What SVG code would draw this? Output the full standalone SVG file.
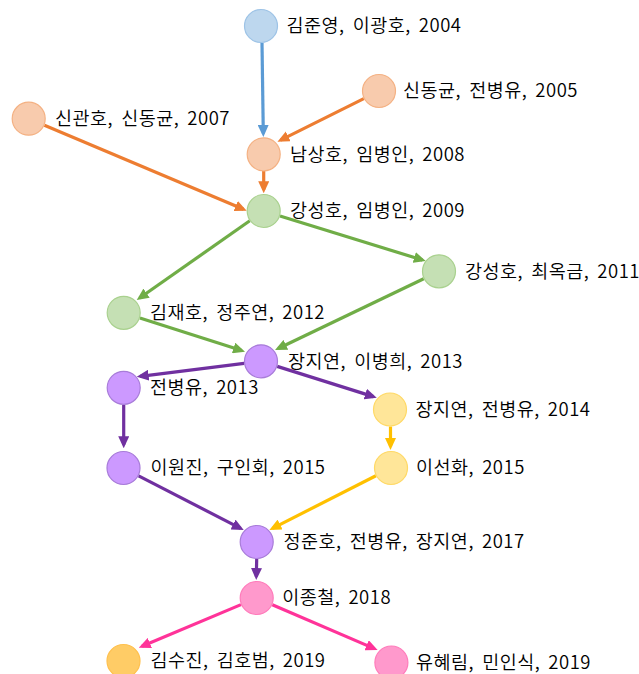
<svg xmlns="http://www.w3.org/2000/svg" width="639" height="674" viewBox="0 0 639 674">
<style>
  text { font-family: "Noto Sans CJK KR", "Noto Sans", sans-serif; font-size: 18.5px; font-weight: 350; letter-spacing: 0.5px; word-spacing: 3.5px; fill: #000; }
  .e { fill: none; stroke-width: 3.2; }
  .n { stroke-width: 1.2; }
  .blue { fill: #BDD7EE; stroke: #9DC3E6; }
  .orange { fill: #F8CBAD; stroke: #F4B183; }
  .green { fill: #C5E0B4; stroke: #A9D18E; }
  .purple { fill: #CC99FF; stroke: #A87CD9; }
  .yellow { fill: #FFE699; stroke: #FFD966; }
  .pink { fill: #FF99CC; stroke: #FF7CBB; }
  .gold { fill: #FFCC66; stroke: #FFC04D; }
</style>
<defs>
  <marker id="aBlue" markerUnits="userSpaceOnUse" markerWidth="12" markerHeight="11" refX="8.5" refY="5.5" orient="auto"><path d="M0,0 L12,5.5 L0,11 z" fill="#5B9BD5"/></marker>
  <marker id="aOrange" markerUnits="userSpaceOnUse" markerWidth="12" markerHeight="11" refX="8.5" refY="5.5" orient="auto"><path d="M0,0 L12,5.5 L0,11 z" fill="#ED7D31"/></marker>
  <marker id="aGreen" markerUnits="userSpaceOnUse" markerWidth="12" markerHeight="11" refX="8.5" refY="5.5" orient="auto"><path d="M0,0 L12,5.5 L0,11 z" fill="#70AD47"/></marker>
  <marker id="aPurple" markerUnits="userSpaceOnUse" markerWidth="12" markerHeight="11" refX="8.5" refY="5.5" orient="auto"><path d="M0,0 L12,5.5 L0,11 z" fill="#7030A0"/></marker>
  <marker id="aYellow" markerUnits="userSpaceOnUse" markerWidth="12" markerHeight="11" refX="8.5" refY="5.5" orient="auto"><path d="M0,0 L12,5.5 L0,11 z" fill="#FFC000"/></marker>
  <marker id="aPink" markerUnits="userSpaceOnUse" markerWidth="12" markerHeight="11" refX="8.5" refY="5.5" orient="auto"><path d="M0,0 L12,5.5 L0,11 z" fill="#FF3399"/></marker>
</defs>
<rect width="639" height="674" fill="#FFFFFF"/>
<g id="connectors">
  <line class="e" stroke="#5B9BD5" marker-end="url(#aBlue)" x1="262" y1="43" x2="263.3" y2="133.5"/>
  <line class="e" stroke="#ED7D31" marker-end="url(#aOrange)" x1="363.8" y1="98.6" x2="280.6" y2="140.1"/>
  <line class="e" stroke="#ED7D31" marker-end="url(#aOrange)" x1="263.7" y1="171" x2="263.7" y2="189.8"/>
  <line class="e" stroke="#ED7D31" marker-end="url(#aOrange)" x1="44.4" y1="125.3" x2="243.5" y2="209.3"/>
  <line class="e" stroke="#70AD47" marker-end="url(#aGreen)" x1="249.8" y1="220.8" x2="139.6" y2="298"/>
  <line class="e" stroke="#70AD47" marker-end="url(#aGreen)" x1="280" y1="216" x2="422.4" y2="260"/>
  <line class="e" stroke="#70AD47" marker-end="url(#aGreen)" x1="139.9" y1="318" x2="241.7" y2="350.6"/>
  <line class="e" stroke="#70AD47" marker-end="url(#aGreen)" x1="423.7" y1="278.7" x2="278.2" y2="348.5"/>
  <line class="e" stroke="#7030A0" marker-end="url(#aPurple)" x1="244.1" y1="363.4" x2="140.2" y2="376.3"/>
  <line class="e" stroke="#7030A0" marker-end="url(#aPurple)" x1="277.2" y1="366.4" x2="373.4" y2="396.6"/>
  <line class="e" stroke="#7030A0" marker-end="url(#aPurple)" x1="123.7" y1="404.8" x2="123.7" y2="444.8"/>
  <line class="e" stroke="#FFC000" marker-end="url(#aYellow)" x1="390.5" y1="426.5" x2="390.5" y2="446.5"/>
  <line class="e" stroke="#7030A0" marker-end="url(#aPurple)" x1="138.6" y1="475.8" x2="240.6" y2="528.4"/>
  <line class="e" stroke="#FFC000" marker-end="url(#aYellow)" x1="375.9" y1="475.7" x2="272.5" y2="528.4"/>
  <line class="e" stroke="#7030A0" marker-end="url(#aPurple)" x1="256.7" y1="559" x2="256.3" y2="576.5"/>
  <line class="e" stroke="#FF3399" marker-end="url(#aPink)" x1="241" y1="604.6" x2="142" y2="646.3"/>
  <line class="e" stroke="#FF3399" marker-end="url(#aPink)" x1="272.3" y1="604.7" x2="374.4" y2="648.6"/>
</g>
<g id="n1"><circle class="n blue" cx="261" cy="26" r="16.5"/><text x="286.5" y="32.3">김준영, 이광호, 2004</text></g>
<g id="n2"><circle class="n orange" cx="379" cy="91" r="16.5"/><text x="403" y="97.3">신동균, 전병유, 2005</text></g>
<g id="n3"><circle class="n orange" cx="28.7" cy="118.7" r="16.5"/><text x="55" y="125">신관호, 신동균, 2007</text></g>
<g id="n4"><circle class="n orange" cx="263.7" cy="154.3" r="16.5"/><text x="290" y="160.6">남상호, 임병인, 2008</text></g>
<g id="n5"><circle class="n green" cx="263.7" cy="211" r="16.5"/><text x="290" y="217.3">강성호, 임병인, 2009</text></g>
<g id="n6"><circle class="n green" cx="439" cy="271.3" r="16.5"/><text x="465" y="277.6">강성호, 최옥금, 2011</text></g>
<g id="n7"><circle class="n green" cx="123.7" cy="312.8" r="16.5"/><text x="150" y="319.1">김재호, 정주연, 2012</text></g>
<g id="n8"><circle class="n purple" cx="261" cy="361.3" r="16.5"/><text x="288" y="367.6">장지연, 이병희, 2013</text></g>
<g id="n9"><circle class="n purple" cx="123.7" cy="387.8" r="16.5"/><text x="150" y="394.1">전병유, 2013</text></g>
<g id="n10"><circle class="n yellow" cx="390" cy="409.5" r="16.5"/><text x="415.5" y="415.8">장지연, 전병유, 2014</text></g>
<g id="n11"><circle class="n purple" cx="123.5" cy="468" r="16.5"/><text x="150.5" y="474.3">이원진, 구인회, 2015</text></g>
<g id="n12"><circle class="n yellow" cx="391" cy="468" r="16.5"/><text x="416" y="474.3">이선화, 2015</text></g>
<g id="n13"><circle class="n purple" cx="256.7" cy="542" r="16.5"/><text x="283.5" y="548.3">정준호, 전병유, 장지연, 2017</text></g>
<g id="n14"><circle class="n pink" cx="256.7" cy="598" r="16.5"/><text x="282.3" y="604.3">이종철, 2018</text></g>
<g id="n15"><circle class="n gold" cx="123.5" cy="661" r="16.5"/><text x="150.5" y="667.3">김수진, 김호범, 2019</text></g>
<g id="n16"><circle class="n pink" cx="391.4" cy="662.5" r="16.5"/><text x="416" y="668.8">유혜림, 민인식, 2019</text></g>
</svg>
